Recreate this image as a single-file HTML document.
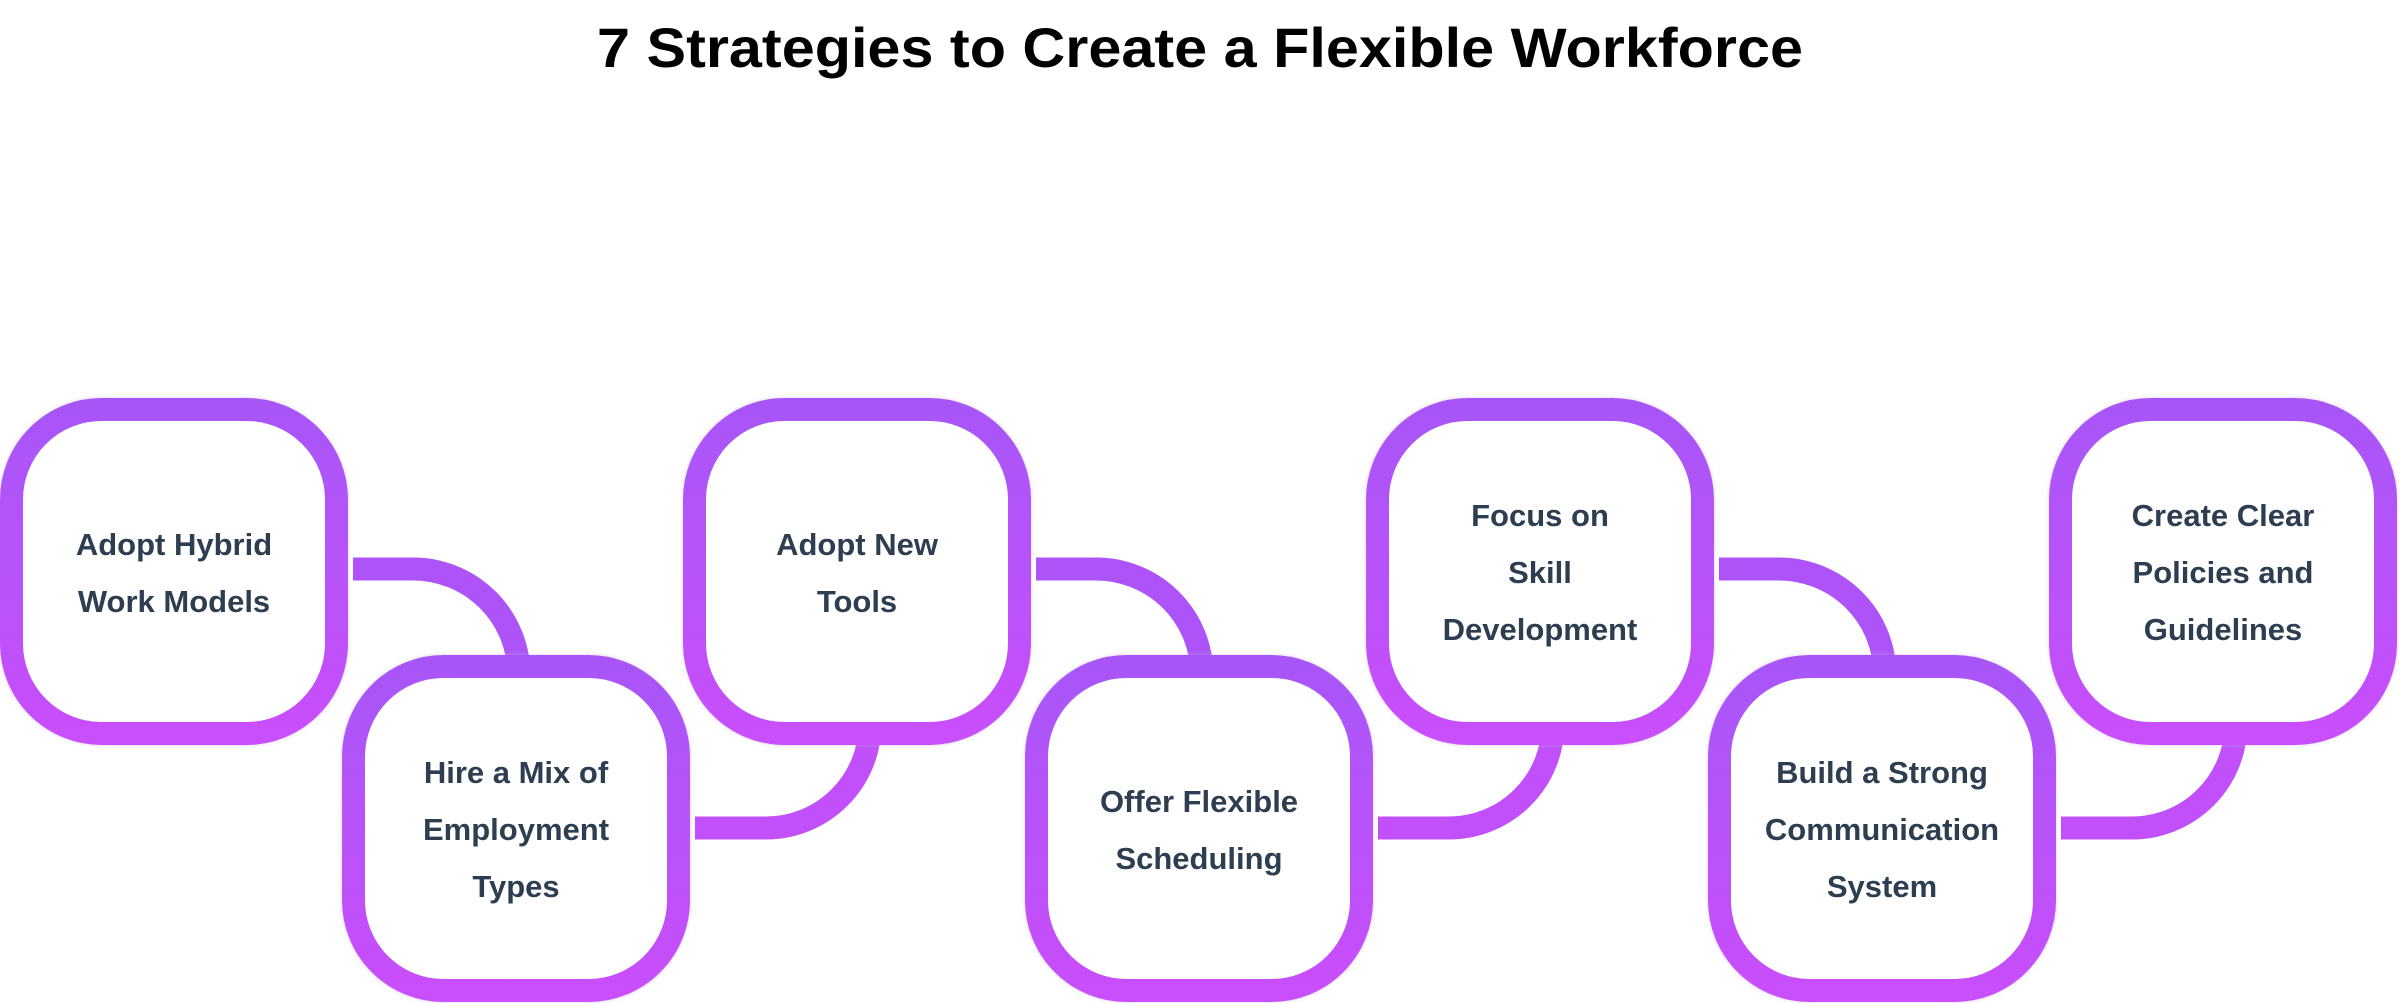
<!DOCTYPE html>
<html><head><meta charset="utf-8"><style>
html,body{margin:0;padding:0;background:#fff;}
svg{display:block;}
text{font-family:"Liberation Sans",sans-serif;font-weight:bold;}
</style></head><body>
<svg width="2400" height="1003" viewBox="0 0 2400 1003" xmlns="http://www.w3.org/2000/svg">
<defs>
<linearGradient id="g" x1="0" y1="0" x2="0" y2="1">
<stop offset="0" stop-color="#a855f7"/><stop offset="1" stop-color="#c84ffb"/>
</linearGradient>
<filter id="sh" x="-10%" y="-10%" width="120%" height="120%"><feDropShadow dx="0" dy="0" stdDeviation="2" flood-color="#c8b6e0" flood-opacity="0.6"/></filter>
</defs>
<text x="1200" y="67" text-anchor="middle" font-size="56" fill="#000" textLength="1206" lengthAdjust="spacingAndGlyphs">7 Strategies to Create a Flexible Workforce</text>

<g fill="none" stroke-width="23">
<path d="M353 569 H413 A106 106 0 0 1 519 675 V665" stroke="#ad53f7"/>
<path d="M1036 569 H1096 A106 106 0 0 1 1202 675" stroke="#ad53f7"/>
<path d="M1719 569 H1779 A106 106 0 0 1 1885 675" stroke="#ad53f7"/>
<path d="M695 828 H766 A104 104 0 0 0 870 724" stroke="#c250fa"/>
<path d="M1378 828 H1449 A104 104 0 0 0 1553 724" stroke="#c250fa"/>
<path d="M2061 828 H2132 A104 104 0 0 0 2236 724" stroke="#c250fa"/>
</g>

<g fill="#fff" stroke="url(#g)" stroke-width="23" filter="url(#sh)">
<rect x="11.5" y="409.5" width="325" height="324" rx="90"/>
<rect x="353.5" y="666.5" width="325" height="324" rx="90"/>
<rect x="694.5" y="409.5" width="325" height="324" rx="90"/>
<rect x="1036.5" y="666.5" width="325" height="324" rx="90"/>
<rect x="1377.5" y="409.5" width="325" height="324" rx="90"/>
<rect x="1719.5" y="666.5" width="325" height="324" rx="90"/>
<rect x="2060.5" y="409.5" width="325" height="324" rx="90"/>
</g>

<g font-size="31" fill="#2d3e50" text-anchor="middle">
<text x="174" y="555">Adopt Hybrid</text><text x="174" y="612">Work Models</text>
<text x="516" y="783">Hire a Mix of</text><text x="516" y="840">Employment</text><text x="516" y="897">Types</text>
<text x="857" y="555">Adopt New</text><text x="857" y="612">Tools</text>
<text x="1199" y="812">Offer Flexible</text><text x="1199" y="869">Scheduling</text>
<text x="1540" y="526">Focus on</text><text x="1540" y="583">Skill</text><text x="1540" y="640">Development</text>
<text x="1882" y="783">Build a Strong</text><text x="1882" y="840">Communication</text><text x="1882" y="897">System</text>
<text x="2223" y="526">Create Clear</text><text x="2223" y="583">Policies and</text><text x="2223" y="640">Guidelines</text>
</g>
</svg>
</body></html>
